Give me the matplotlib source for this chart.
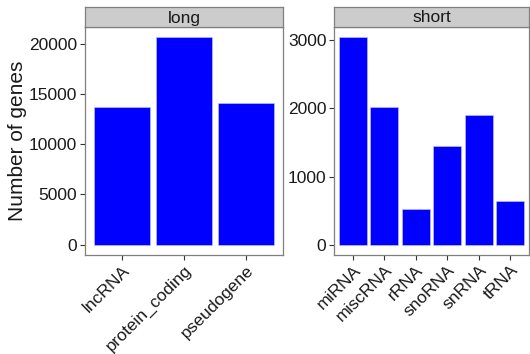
import matplotlib
matplotlib.use("Agg")
import matplotlib.pyplot as plt
import numpy as np

plt.rcParams['font.family'] = ['Liberation Sans', 'DejaVu Sans']

# gene counts by biotype, split into long and short classes
long_types = ["lncRNA", "protein_coding", "pseudogene"]
long_counts = [13770, 20670, 14130]

short_types = ["miRNA", "miscRNA", "rRNA", "snoRNA", "snRNA", "tRNA"]
short_counts = [3045, 2025, 520, 1445, 1905, 635]

W, H = 530, 354
fig = plt.figure(figsize=(W / 100, H / 100), dpi=100)

def px_axes(x0, x1, y0, y1):
    return fig.add_axes([x0 / W, 1 - y1 / H, (x1 - x0) / W, (y1 - y0) / H])

def facet(ax, cats, vals, ticks, title):
    x = np.arange(len(cats))
    ax.bar(x, vals, width=0.9, color="#0000FF", edgecolor="#c8c8ff", linewidth=0.4)
    ax.set_xlim(-0.6, len(cats) - 0.4)
    top = max(vals)
    ax.set_ylim(-0.05 * top, 1.05 * top)
    ax.set_yticks(ticks)
    ax.set_xticks(x)
    ax.set_xticklabels(cats, rotation=45, ha="right", va="top", rotation_mode="anchor")
    ax.tick_params(axis="both", direction="out", length=3.5, width=0.8, color="#333333",
                   labelsize=12.5, labelcolor="#1a1a1a", pad=2)
    for s in ax.spines.values():
        s.set_color("#7f7f7f")
        s.set_linewidth(0.9)
    # facet strip above the panel
    bb = ax.get_position()
    strip = fig.add_axes([bb.x0, bb.y1, bb.width, 20 / H])
    strip.set_facecolor("#CCCCCC")
    strip.set_xticks([])
    strip.set_yticks([])
    for s in strip.spines.values():
        s.set_color("#7f7f7f")
        s.set_linewidth(0.9)
    strip.text(0.5, 0.45, title, ha="center", va="center", fontsize=12.5, color="#1a1a1a",
               transform=strip.transAxes)

ax1 = px_axes(85, 283, 27, 255)
facet(ax1, long_types, long_counts, [0, 5000, 10000, 15000, 20000], "long")
ax1.set_ylabel("Number of genes", fontsize=15, color="#1a1a1a", labelpad=1.5)

ax2 = px_axes(334, 529, 27, 255)
facet(ax2, short_types, short_counts, [0, 1000, 2000, 3000], "short")

fig.savefig("out.png", dpi=100)
